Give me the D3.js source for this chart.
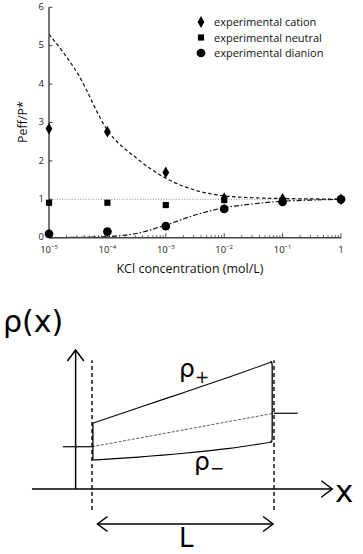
<!DOCTYPE html>
<html><head><meta charset="utf-8">
<script src="https://cdn.jsdelivr.net/npm/d3@7"></script>
<style>
html,body{margin:0;padding:0;background:#fff;}
svg{display:block;}
</style></head>
<body>
<script>
// ---------- Data: top chart ----------
const concentrations = [1e-5, 1e-4, 1e-3, 1e-2, 1e-1, 1];
const xTickExponents = [-5, -4, -3, -2, -1, 0];
const yTicks = [0, 1, 2, 3, 4, 5, 6];
const cation  = [2.84, 2.76, 1.70, 1.03, 1.01, 1.00];
const neutral = [0.91, 0.91, 0.85, 0.98, 0.97, 1.00];
const dianion = [0.10, 0.16, 0.30, 0.75, 0.93, 1.00];
const modelLogC    = [-5, -4.5, -4, -3.5, -3, -2.5, -2, -1.5, -1, -0.5, 0];
const modelCation  = [5.3, 4.25, 2.8, 2.07, 1.55, 1.24, 1.09, 1.04, 1.02, 1.01, 1.0];
const modelDianion = [0.0, 0.01, 0.03, 0.11, 0.33, 0.59, 0.78, 0.88, 0.95, 0.98, 1.0];
const legendLabels = ["experimental cation", "experimental neutral", "experimental dianion"];
const legendSymbols = ["diamond", "square", "circle"];

// ---------- Data: schematic (x in units of L, rho in arbitrary units) ----------
const profileX     = [0, 0.25, 0.5, 0.75, 0.985];
const rhoPlus      = [4.71, 5.8, 6.9, 8.0, 9.09];
const rhoMinus     = [2.07, 2.28, 2.55, 2.9, 3.36];
const rhoMeanX     = [0, 1];
const rhoMean      = [3.02, 5.41];
const bulkLeftX    = [-0.16, 0];
const bulkRightX   = [1, 1.13];
const membraneX    = [0, 1];
const membraneSpan = [-1.5, 9.2];
const axisXRange   = [-0.33, 1.32];
const axisYPos     = -0.09;
const axisYRange   = [0, 9.93];
const lArrowRange  = [0.03, 0.995];
const lArrowLevel  = -2.5;

const W = 363, H = 554;
const svg = d3.select("body").append("svg").attr("width", W).attr("height", H);

// ---------- Top chart ----------
const x = d3.scaleLog().domain([1e-5, 1]).range([49, 341]);
const y = d3.scaleLinear().domain([0, 6]).range([237.7, 7.3]);
const font = "'Open Sans', sans-serif";
const g = svg.append("g");

// dotted reference at 1
g.append("line").attr("x1", x(1e-5)).attr("x2", x(1)).attr("y1", y(1)).attr("y2", y(1))
  .attr("stroke", "#777").attr("stroke-width", 0.8).attr("stroke-dasharray", "1,1.6");

// model curves
const lineGen = d3.line().x(d => x(Math.pow(10, d[0]))).y(d => y(d[1])).curve(d3.curveMonotoneX);
g.append("path").attr("d", lineGen(modelLogC.map((c, i) => [c, modelCation[i]])))
  .attr("fill", "none").attr("stroke", "#111").attr("stroke-width", 1.2).attr("stroke-dasharray", "3.5,2.5");
g.append("path").attr("d", lineGen(modelLogC.map((c, i) => [c, modelDianion[i]])))
  .attr("fill", "none").attr("stroke", "#111").attr("stroke-width", 1.2).attr("stroke-dasharray", "5,2,1.5,2");

// axes
const xAxisY = y(0);
g.append("line").attr("x1", x(1e-5)).attr("x2", x(1)).attr("y1", xAxisY).attr("y2", xAxisY)
  .attr("stroke", "#444").attr("stroke-width", 1.6);
g.append("line").attr("x1", x(1e-5)).attr("x2", x(1e-5)).attr("y1", y(0)).attr("y2", y(6))
  .attr("stroke", "#555").attr("stroke-width", 1.6);

// x ticks (major + minor, inward)
const minor = [];
xTickExponents.slice(0, -1).forEach(e => { for (let k = 2; k <= 9; k++) minor.push(k * Math.pow(10, e)); });
g.selectAll(".minor").data(minor).enter().append("line")
  .attr("x1", d => x(d)).attr("x2", d => x(d)).attr("y1", xAxisY).attr("y2", xAxisY - 2.5)
  .attr("stroke", "#333").attr("stroke-width", 0.8);
g.selectAll(".major").data(xTickExponents).enter().append("line")
  .attr("x1", d => x(Math.pow(10, d))).attr("x2", d => x(Math.pow(10, d)))
  .attr("y1", xAxisY).attr("y2", xAxisY - 4.5).attr("stroke", "#333").attr("stroke-width", 0.9);
const xl = g.selectAll(".xl").data(xTickExponents).enter().append("text")
  .attr("x", d => x(Math.pow(10, d))).attr("y", 253).attr("text-anchor", "middle")
  .attr("font-family", font).attr("font-size", 9.5).attr("fill", "#222");
xl.each(function (d) {
  const t = d3.select(this);
  if (d === 0) { t.text("1"); return; }
  t.append("tspan").text("10");
  t.append("tspan").attr("dy", -4).attr("font-size", 6).text("\u2212" + Math.abs(d));
});

// y ticks
g.selectAll(".yt").data(yTicks).enter().append("line")
  .attr("x1", x(1e-5)).attr("x2", x(1e-5) + 3.5).attr("y1", d => y(d)).attr("y2", d => y(d))
  .attr("stroke", "#333").attr("stroke-width", 0.9);
g.selectAll(".yl").data(yTicks).enter().append("text")
  .attr("x", 44).attr("y", d => y(d) + 2.6).attr("text-anchor", "end")
  .attr("font-family", font).attr("font-size", 9.5).attr("fill", "#222").text(d => d);

// axis titles
g.append("text").attr("x", 190).attr("y", 273).attr("text-anchor", "middle")
  .attr("font-family", font).attr("font-size", 12.5).attr("fill", "#111").text("KCl concentration (mol/L)");
g.append("text").attr("transform", "translate(27,122) rotate(-90)").attr("text-anchor", "middle")
  .attr("font-family", font).attr("font-size", 12.5).attr("fill", "#111").text("Peff/P*");

// markers
const sym = {
  diamond: d3.symbol().type(d3.symbolDiamond).size(40),
  square: d3.symbol().type(d3.symbolSquare).size(38),
  circle: d3.symbol().type(d3.symbolCircle).size(60)
};
function drawSeries(vals, s) {
  g.selectAll(null).data(concentrations).enter().append("path")
    .attr("transform", (c, i) => `translate(${x(c)},${y(vals[i])})`)
    .attr("d", sym[s]()).attr("fill", "#000");
}
drawSeries(neutral, "square");
drawSeries(dianion, "circle");
drawSeries(cation, "diamond");

// legend
const lg = g.append("g");
legendLabels.forEach((lab, i) => {
  const ly = 22 + i * 15.5;
  lg.append("path").attr("transform", `translate(201,${ly})`).attr("d", sym[legendSymbols[i]]()).attr("fill", "#000");
  lg.append("text").attr("x", 214).attr("y", ly + 4).attr("font-family", font).attr("font-size", 11)
    .attr("fill", "#111").text(lab);
});

// ---------- Schematic ----------
const sx = d3.scaleLinear().domain([0, 1]).range([92, 274]);
const sy = d3.scaleLinear().domain([0, 10]).range([489, 349]);
const sg = svg.append("g").attr("stroke", "#000").attr("fill", "none");
const sfont = "'DejaVu Sans', sans-serif";

// axes
sg.append("line").attr("x1", sx(axisXRange[0])).attr("x2", sx(axisXRange[1])).attr("y1", sy(0)).attr("y2", sy(0)).attr("stroke-width", 1.5);
sg.append("line").attr("x1", sx(axisYPos)).attr("x2", sx(axisYPos)).attr("y1", sy(axisYRange[0])).attr("y2", sy(axisYRange[1])).attr("stroke-width", 1.5);
function chevron(px, py, dx, dy, size) {
  const nx = -dy, ny = dx;
  return `M${px - dx * size + nx * size * 0.75},${py - dy * size + ny * size * 0.75}L${px},${py}L${px - dx * size - nx * size * 0.75},${py - dy * size - ny * size * 0.75}`;
}
sg.append("path").attr("d", chevron(sx(axisXRange[1]), sy(0), 1, 0, 11)).attr("stroke-width", 1.5);
sg.append("path").attr("d", chevron(sx(axisYPos), sy(axisYRange[1]), 0, -1, 11)).attr("stroke-width", 1.5);

// membrane boundaries
membraneX.forEach(m => {
  sg.append("line").attr("x1", sx(m)).attr("x2", sx(m)).attr("y1", sy(membraneSpan[0])).attr("y2", sy(membraneSpan[1]))
    .attr("stroke-width", 1.4).attr("stroke-dasharray", "4,3");
});

// bulk concentration ticks
sg.append("line").attr("x1", sx(bulkLeftX[0])).attr("x2", sx(bulkLeftX[1])).attr("y1", sy(rhoMean[0])).attr("y2", sy(rhoMean[0])).attr("stroke-width", 1.2);
sg.append("line").attr("x1", sx(bulkRightX[0])).attr("x2", sx(bulkRightX[1])).attr("y1", sy(rhoMean[1])).attr("y2", sy(rhoMean[1])).attr("stroke-width", 1.2);

// mean (dashed)
sg.append("line").attr("x1", sx(rhoMeanX[0])).attr("x2", sx(rhoMeanX[1])).attr("y1", sy(rhoMean[0])).attr("y2", sy(rhoMean[1]))
  .attr("stroke-width", 0.8).attr("stroke-dasharray", "3,1.5").attr("stroke", "#333");

// rho+ / rho- outline
const outline = d3.line().x(d => sx(d[0])).y(d => sy(d[1]));
const smooth = d3.line().x(d => sx(d[0])).y(d => sy(d[1])).curve(d3.curveMonotoneX);
sg.append("path").attr("d", outline([[profileX[0] + 0.005, rhoMinus[0]], [profileX[0] + 0.005, rhoPlus[0]]])).attr("stroke-width", 1.3);
sg.append("path").attr("d", smooth(profileX.map((p, i) => [p + 0.005, rhoPlus[i]]))).attr("stroke-width", 1.1);
sg.append("path").attr("d", smooth(profileX.map((p, i) => [p + 0.005, rhoMinus[i]]))).attr("stroke-width", 1.1);
const last = profileX.length - 1;
const edgeX = profileX[last] + 0.005;
sg.append("path").attr("d",
  `M${sx(profileX[last] - 0.005)},${sy(rhoPlus[last])}` +
  `Q${sx(edgeX)},${sy(rhoPlus[last])} ${sx(edgeX)},${sy(rhoPlus[last] - 0.3)}` +
  `L${sx(edgeX)},${sy(rhoMinus[last] + 0.3)}` +
  `Q${sx(edgeX)},${sy(rhoMinus[last])} ${sx(profileX[last] - 0.005)},${sy(rhoMinus[last])}`)
  .attr("stroke-width", 1.3);

// L arrow
sg.append("line").attr("x1", sx(lArrowRange[0])).attr("x2", sx(lArrowRange[1])).attr("y1", sy(lArrowLevel)).attr("y2", sy(lArrowLevel)).attr("stroke-width", 1.5);
sg.append("path").attr("d", chevron(sx(lArrowRange[1]), sy(lArrowLevel), 1, 0, 10)).attr("stroke-width", 1.5);
sg.append("path").attr("d", chevron(sx(lArrowRange[0]), sy(lArrowLevel), -1, 0, 10)).attr("stroke-width", 1.5);

// labels
const tg = svg.append("g").attr("font-family", sfont).attr("fill", "#000");
tg.append("text").attr("x", 3).attr("y", 332).attr("font-size", 30).text("\u03c1(x)");
const tp = tg.append("text").attr("x", 179).attr("y", 377).attr("font-size", 25);
tp.append("tspan").text("\u03c1");
tp.append("tspan").attr("font-size", 17).attr("dy", 6).text("+");
const tm = tg.append("text").attr("x", 194).attr("y", 470).attr("font-size", 25);
tm.append("tspan").text("\u03c1");
tm.append("tspan").attr("font-size", 17).attr("dy", 4).text("\u2212");
tg.append("text").attr("x", 335).attr("y", 502).attr("font-size", 31).text("x");
tg.append("text").attr("x", 179).attr("y", 547).attr("font-size", 26).text("L");
</script>
</body></html>
